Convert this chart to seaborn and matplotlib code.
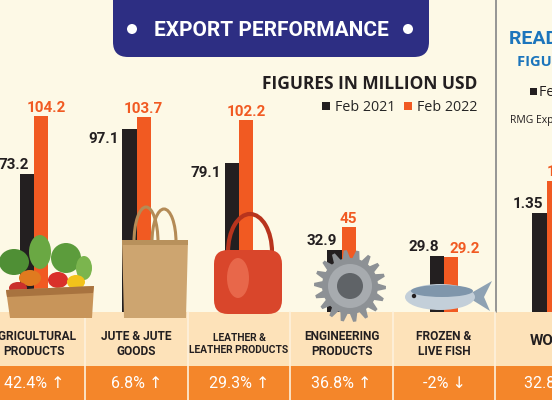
import matplotlib
matplotlib.use("Agg")
import matplotlib.pyplot as plt
import matplotlib.transforms as mtransforms
from matplotlib.patches import FancyBboxPatch, Rectangle, Circle, Ellipse, Polygon, Arc
import numpy as np
import pandas as pd
import seaborn as sns

categories = ["AGRICULTURAL\nPRODUCTS", "JUTE & JUTE\nGOODS", "LEATHER &\nLEATHER PRODUCTS",
              "ENGINEERING\nPRODUCTS", "FROZEN &\nLIVE FISH"]
feb_2021 = [73.2, 97.1, 79.1, 32.9, 29.8]
feb_2022 = [104.2, 103.7, 102.2, 45, 29.2]
growth = ["42.4% ↑", "6.8% ↑", "29.3% ↑", "36.8% ↑", "-2% ↓"]
periods = ["Feb 2021", "Feb 2022"]

# right-hand panel (cut off at the edge of the picture)
rmg_category = ["WOVEN"]
rmg_2021 = [1.35]
rmg_2022 = [1.79]
rmg_growth = ["32.8% ↑"]

# label placement for the black value labels
black_label_mode = ["above", "left", "left", "above", "above"]
orange_label_dx = [5, 0, 0, 0, 14]

CREAM = "#fdf9e6"
NAVY = "#2d2e83"
BLACK = "#231f20"
ORANGE = "#f15a22"
PEACH = "#fde2b9"
BAND = "#f4862a"
BLUE = "#1c75bc"
NARROW = ["Roboto", "DejaVu Sans"]
SANS = ["Open Sans", "DejaVu Sans"]

sns.set_theme(style="white")
plt.rcParams["font.family"] = NARROW

fig = plt.figure(figsize=(5.52, 4.0), dpi=100, facecolor=CREAM)

# background layer in pixel coordinates (y down)
bg = fig.add_axes([0, 0, 1, 1], zorder=0)
bg.set_xlim(0, 552)
bg.set_ylim(400, 0)
bg.axis("off")
bg.set_facecolor(CREAM)

bg.add_patch(Rectangle((0, 312), 552, 54, color=PEACH, lw=0))
bg.add_patch(Rectangle((0, 366), 552, 34, color=BAND, lw=0))
bg.add_patch(FancyBboxPatch((113, -40), 316, 97, boxstyle="round,pad=0,rounding_size=15",
                            color=NAVY, lw=0))
for cx in (132, 408):
    bg.add_patch(Circle((cx, 29), 5, color="white", lw=0))
bg.text(271, 30, "EXPORT PERFORMANCE", color="white", fontsize=15, fontweight="bold",
        ha="center", va="center")
bg.text(477, 84, "FIGURES IN MILLION USD", color=BLACK, fontsize=12.5, fontweight="bold",
        family=SANS, ha="right", va="center")
bg.plot([496, 496], [0, 312], color="#8e8e8e", lw=1.3)

# right panel headings
bg.text(509, 39, "READY-MADE GARMENTS", color=BLUE, fontsize=14, fontweight="bold", va="center")
bg.text(517, 62, "FIGURES IN BILLION USD", color=BLUE, fontsize=10.5, fontweight="bold",
        family=SANS, va="center")
bg.add_patch(Rectangle((530, 88), 7, 7, color=BLACK, lw=0))
bg.text(539, 92, "Feb 2021", color=BLACK, fontsize=10.3, family=SANS, va="center")
bg.text(510, 121, "RMG Export", color=BLACK, fontsize=7.5, family=SANS, va="center")

# main bar chart
ax = fig.add_axes([0, 88 / 400, 496 / 552, 312 / 400], zorder=2)
ax.patch.set_alpha(0)
df = pd.DataFrame({
    "category": categories * 2,
    "period": [periods[0]] * len(categories) + [periods[1]] * len(categories),
    "value": feb_2021 + feb_2022,
})
sns.barplot(data=df, x="category", y="value", hue="period", palette=[BLACK, ORANGE],
            width=0.275, gap=0, saturation=1, linewidth=0, ax=ax)
ax.set_xlim(-34 / 102.5, (496 - 34) / 102.5)
ax.set_ylim(0, 312 / 1.88)
ax.axis("off")

lab = dict(fontsize=11, fontweight="bold", textcoords="offset pixels", va="baseline")
for bar, mode in zip(ax.containers[0], black_label_mode):
    h = bar.get_height()
    if mode == "left":
        ax.annotate(f"{h:g}", (bar.get_x(), h), xytext=(-4, -14), ha="right", color=BLACK, **lab)
    else:
        ax.annotate(f"{h:g}", (bar.get_x() + bar.get_width(), h), xytext=(-5, 5), ha="right",
                    color=BLACK, **lab)
for bar, dx in zip(ax.containers[1], orange_label_dx):
    h = bar.get_height()
    ax.annotate(f"{h:g}", (bar.get_x() + bar.get_width() / 2, h), xytext=(dx, 4),
                ha="center", color=ORANGE, **lab)

handles, labels = ax.get_legend_handles_labels()
ax.legend(handles, labels, ncol=2, loc="upper right", bbox_to_anchor=(477, 100),
          bbox_transform=bg.transData, frameon=False, borderpad=0, borderaxespad=0,
          handlelength=0.55, handleheight=0.55, handletextpad=0.35, columnspacing=0.6,
          prop={"family": SANS, "size": 10.3})

# category and growth bands
blend = mtransforms.blended_transform_factory(ax.transData, bg.transData)
for i, (name, pct) in enumerate(zip(categories, growth)):
    size = 7.4 if max(len(s) for s in name.split("\n")) > 13 else 8.6
    bg.text(i, 344, name, transform=blend, ha="center", va="center", fontsize=size,
            fontweight="bold", color=BLACK, linespacing=1.2)
    bg.text(i, 384, pct, transform=blend, ha="center", va="center", fontsize=11.5,
            color="white")
for i in range(len(categories)):
    bg.plot([i + 0.5, i + 0.5], [312, 400], transform=blend, color="#fdf1dc", lw=1.2)

# right panel bars (different unit)
ax2 = fig.add_axes([496 / 552, 88 / 400, 56 / 552, 312 / 400], zorder=2)
ax2.patch.set_alpha(0)
df2 = pd.DataFrame({
    "category": rmg_category * 2,
    "period": periods,
    "value": rmg_2021 + rmg_2022,
})
sns.barplot(data=df2, x="category", y="value", hue="period", palette=[BLACK, ORANGE],
            width=0.275, gap=0, saturation=1, linewidth=0, legend=False, ax=ax2)
ax2.set_xlim(-(546.5 - 496) / 102.5, (552 - 546.5) / 102.5)
ax2.set_ylim(0, 312 / 73)
ax2.axis("off")
for bar in ax2.containers[0]:
    h = bar.get_height()
    ax2.annotate(f"{h:g}", (bar.get_x() + bar.get_width(), h), xytext=(-3, 5), ha="right",
                 color=BLACK, annotation_clip=False, **lab)
for bar in ax2.containers[1]:
    h = bar.get_height()
    ax2.annotate(f"{h:g}", (bar.get_x(), h), xytext=(0, 5), ha="left", color=ORANGE, **lab)
bg.text(530, 341, rmg_category[0], ha="left", va="center", fontsize=11, fontweight="bold",
        color=BLACK)
bg.text(524, 384, rmg_growth[0], ha="left", va="center", fontsize=11.5, color="white")

# rough stand-ins for the product photos that sit over the bar feet
fg = fig.add_axes([0, 0, 1, 1], zorder=3)
fg.set_xlim(0, 552)
fg.set_ylim(400, 0)
fg.axis("off")
fg.patch.set_alpha(0)
# vegetable crate
for cx, cy, w, hh, c in [(14, 262, 30, 26, "#4f8f35"), (40, 252, 22, 34, "#6aa843"),
                         (66, 258, 30, 30, "#5c9c3c"), (84, 268, 16, 24, "#7bb54e"),
                         (30, 278, 22, 16, "#e07a1f"), (58, 280, 20, 16, "#d9302a"),
                         (76, 282, 18, 14, "#f2c21b"), (18, 288, 18, 12, "#c9302c")]:
    fg.add_patch(Ellipse((cx, cy), w, hh, color=c, lw=0))
fg.add_patch(Polygon([(6, 290), (94, 286), (92, 318), (10, 318)], color="#c8955a", lw=0))
fg.add_patch(Polygon([(6, 290), (94, 286), (93, 293), (7, 297)], color="#a8733f", lw=0))
# jute bag (y axis points down, so the handles use the 180-360 half)
fg.add_patch(Arc((146, 242), 24, 70, theta1=180, theta2=360, color="#b48b56", lw=2.2))
fg.add_patch(Arc((164, 242), 24, 66, theta1=180, theta2=360, color="#b48b56", lw=2.2))
fg.add_patch(Polygon([(122, 240), (188, 240), (186, 318), (124, 318)], color="#cda570", lw=0))
fg.add_patch(Rectangle((122, 240), 66, 5, color="#b8915c", lw=0))
# leather handbag
fg.add_patch(Arc((250, 252), 44, 76, theta1=180, theta2=360, color="#b8341d", lw=3))
fg.add_patch(FancyBboxPatch((214, 250), 68, 64, boxstyle="round,pad=0,rounding_size=14",
                            color="#d9462b", lw=0))
fg.add_patch(Ellipse((238, 278), 22, 40, color="#e8674a", lw=0))
# gear
ang = np.linspace(0, 2 * np.pi, 73)
rad = np.where((np.arange(73) // 2) % 2 == 0, 36, 28)
fg.add_patch(Polygon(np.column_stack([350 + rad * np.cos(ang), 286 + rad * np.sin(ang)]),
                     color="#8d9195", lw=0))
fg.add_patch(Circle((350, 286), 22, color="#a7abaf", lw=0))
fg.add_patch(Circle((350, 286), 13, color="#5f6367", lw=0))
# fish
fg.add_patch(Polygon([(466, 296), (492, 281), (484, 297), (490, 311)], color="#8ea2b3", lw=0))
fg.add_patch(Ellipse((440, 297), 70, 26, color="#c3cfd9", lw=0))
fg.add_patch(Ellipse((442, 291), 62, 12, color="#7f96ab", lw=0))
fg.add_patch(Circle((414, 296), 2.2, color=BLACK, lw=0))

fig.savefig("out.png", dpi=100, facecolor=CREAM)
